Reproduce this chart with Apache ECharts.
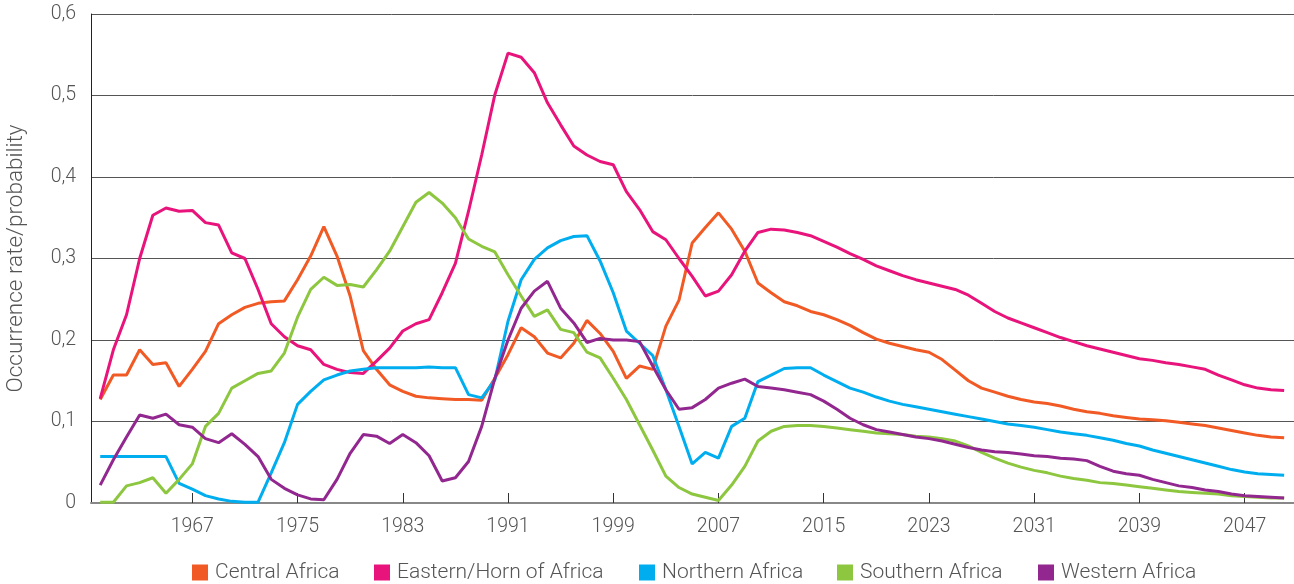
<!DOCTYPE html>
<html>
<head>
<meta charset="utf-8">
<script src="https://cdn.jsdelivr.net/npm/echarts@6/dist/echarts.min.js"></script>
<style>
  html, body { margin: 0; padding: 0; background: #fff; }
  #chart { width: 1294px; height: 584px; }
</style>
</head>
<body>
<div id="chart"></div>
<script>
// yearly values 1960 - 2050
var firstYear = 1960
var lastYear = 2050
var tickYears = [1967, 1975, 1983, 1991, 1999, 2007, 2015, 2023, 2031, 2039, 2047]
var seriesNames = ['Central Africa', 'Eastern/Horn of Africa', 'Northern Africa', 'Southern Africa', 'Western Africa']
var seriesColors = ['#f15a24', '#e8137b', '#00aeef', '#8dc63f', '#92278f']

var central = [
  0.127, 0.157, 0.157, 0.188, 0.170, 0.172, 0.143, 0.164, 0.186, 0.220,
  0.231, 0.240, 0.245, 0.247, 0.248, 0.274, 0.303, 0.339, 0.303, 0.254,
  0.187, 0.164, 0.145, 0.137, 0.131, 0.129, 0.128, 0.127, 0.127, 0.126,
  0.153, 0.182, 0.215, 0.204, 0.184, 0.178, 0.196, 0.224, 0.208, 0.186,
  0.153, 0.168, 0.164, 0.217, 0.249, 0.319, 0.338, 0.356, 0.336, 0.309,
  0.270, 0.258, 0.247, 0.242, 0.235, 0.231, 0.225, 0.218, 0.209, 0.201,
  0.196, 0.192, 0.188, 0.185, 0.176, 0.163, 0.150, 0.141, 0.136, 0.131,
  0.127, 0.124, 0.122, 0.119, 0.115, 0.112, 0.110, 0.107, 0.105, 0.103,
  0.102, 0.101, 0.099, 0.097, 0.095, 0.092, 0.089, 0.086, 0.083, 0.081,
  0.080
]
var eastern = [
  0.128, 0.188, 0.231, 0.300, 0.353, 0.362, 0.358, 0.359, 0.344, 0.341,
  0.307, 0.300, 0.262, 0.220, 0.204, 0.193, 0.188, 0.170, 0.164, 0.160,
  0.159, 0.174, 0.190, 0.211, 0.220, 0.225, 0.258, 0.294, 0.358, 0.427,
  0.501, 0.552, 0.547, 0.528, 0.491, 0.464, 0.438, 0.427, 0.419, 0.415,
  0.382, 0.360, 0.333, 0.323, 0.300, 0.278, 0.254, 0.260, 0.280, 0.309,
  0.332, 0.336, 0.335, 0.332, 0.328, 0.321, 0.314, 0.306, 0.299, 0.291,
  0.285, 0.279, 0.274, 0.270, 0.266, 0.262, 0.255, 0.245, 0.235, 0.227,
  0.221, 0.215, 0.209, 0.203, 0.198, 0.193, 0.189, 0.185, 0.181, 0.177,
  0.175, 0.172, 0.170, 0.167, 0.164, 0.157, 0.151, 0.145, 0.141, 0.139,
  0.138
]
var northern = [
  0.057, 0.057, 0.057, 0.057, 0.057, 0.057, 0.024, 0.017, 0.009, 0.005,
  0.002, 0.001, 0.001, 0.037, 0.074, 0.121, 0.137, 0.151, 0.157, 0.162,
  0.164, 0.166, 0.166, 0.166, 0.166, 0.167, 0.166, 0.166, 0.133, 0.129,
  0.151, 0.223, 0.274, 0.299, 0.313, 0.322, 0.327, 0.328, 0.297, 0.258,
  0.211, 0.196, 0.181, 0.139, 0.094, 0.048, 0.062, 0.055, 0.094, 0.104,
  0.149, 0.157, 0.165, 0.166, 0.166, 0.157, 0.149, 0.141, 0.136, 0.130,
  0.125, 0.121, 0.118, 0.115, 0.112, 0.109, 0.106, 0.103, 0.100, 0.097,
  0.095, 0.093, 0.090, 0.087, 0.085, 0.083, 0.080, 0.077, 0.073, 0.070,
  0.065, 0.061, 0.057, 0.053, 0.049, 0.045, 0.041, 0.038, 0.036, 0.035,
  0.034
]
var southern = [
  0.001, 0.001, 0.021, 0.025, 0.031, 0.012, 0.029, 0.048, 0.094, 0.110,
  0.141, 0.150, 0.159, 0.162, 0.184, 0.228, 0.262, 0.277, 0.267, 0.268,
  0.265, 0.286, 0.309, 0.339, 0.369, 0.381, 0.368, 0.350, 0.324, 0.315,
  0.308, 0.280, 0.254, 0.229, 0.237, 0.213, 0.209, 0.185, 0.178, 0.153,
  0.127, 0.096, 0.065, 0.033, 0.019, 0.011, 0.007, 0.003, 0.022, 0.045,
  0.076, 0.088, 0.094, 0.095, 0.095, 0.094, 0.092, 0.090, 0.088, 0.086,
  0.085, 0.084, 0.082, 0.081, 0.079, 0.076, 0.070, 0.062, 0.055, 0.049,
  0.044, 0.040, 0.037, 0.033, 0.030, 0.028, 0.025, 0.024, 0.022, 0.020,
  0.018, 0.016, 0.014, 0.013, 0.012, 0.011, 0.009, 0.008, 0.007, 0.006,
  0.006
]
var western = [
  0.022, 0.053, 0.081, 0.108, 0.104, 0.109, 0.096, 0.093, 0.079, 0.074,
  0.085, 0.072, 0.057, 0.029, 0.018, 0.010, 0.005, 0.004, 0.029, 0.061,
  0.084, 0.082, 0.073, 0.084, 0.074, 0.058, 0.027, 0.031, 0.051, 0.094,
  0.153, 0.200, 0.239, 0.260, 0.272, 0.239, 0.221, 0.197, 0.202, 0.200,
  0.200, 0.198, 0.168, 0.139, 0.115, 0.117, 0.127, 0.141, 0.147, 0.152,
  0.143, 0.141, 0.139, 0.136, 0.133, 0.125, 0.115, 0.104, 0.096, 0.090,
  0.087, 0.084, 0.081, 0.079, 0.076, 0.072, 0.068, 0.065, 0.063, 0.062,
  0.060, 0.058, 0.057, 0.055, 0.054, 0.052, 0.045, 0.039, 0.036, 0.034,
  0.029, 0.025, 0.021, 0.019, 0.016, 0.014, 0.011, 0.009, 0.008, 0.007,
  0.006
]

var years = []
for (var y = firstYear; y <= lastYear; y++) years.push(y)

function pairs (vals) {
  return vals.map(function (v, i) { return [years[i], v] })
}

var allValues = [central, eastern, northern, southern, western]
var fontName = 'Roboto, "Liberation Sans", sans-serif'
var textGrey = '#555'
// left edge of each legend square
var legendLefts = [187, 369, 634, 832, 1033]

var myChart = echarts.init(document.getElementById('chart'))
var option = {
  backgroundColor: '#fff',
  animation: false,
  textStyle: { fontFamily: fontName },
  grid: {
    left: 91,
    right: 0,
    top: 14,
    bottom: 81,
    containLabel: false,
    outerBoundsMode: 'none'
  },
  legend: seriesNames.map(function (name, i) {
    return {
      left: legendLefts[i],
      top: 557,
      icon: 'rect',
      itemWidth: 16,
      itemHeight: 16,
      itemGap: 0,
      selectedMode: false,
      textStyle: { fontSize: 21, color: textGrey, fontFamily: fontName, fontWeight: 300, padding: [0, 0, 0, 2] },
      data: [name]
    }
  }),
  xAxis: {
    type: 'value',
    min: 1959.3,
    max: 2050.75,
    axisLine: { show: true, lineStyle: { color: '#888', width: 2 } },
    axisTick: {
      show: true,
      inside: true,
      length: 10,
      customValues: tickYears,
      lineStyle: { color: '#333', width: 1 }
    },
    axisLabel: {
      customValues: tickYears,
      margin: 14,
      fontSize: 19.5,
      color: textGrey,
      fontWeight: 300,
      formatter: function (v) { return String(v) }
    },
    splitLine: { show: false }
  },
  yAxis: {
    type: 'value',
    min: 0,
    max: 0.6,
    interval: 0.1,
    name: 'Occurrence rate/probability',
    nameLocation: 'middle',
    nameRotate: 90,
    nameGap: 63,
    nameTextStyle: { fontSize: 22.5, color: textGrey, fontWeight: 300 },
    axisLine: { show: true, lineStyle: { color: '#222', width: 1 } },
    axisTick: { show: false },
    axisLabel: {
      margin: 15,
      fontSize: 19.5,
      color: textGrey,
      fontWeight: 300,
      formatter: function (v) { return v === 0 ? '0' : v.toFixed(1).replace('.', ',') }
    },
    splitLine: { show: true, lineStyle: { color: '#555', width: 1 } }
  },
  series: seriesNames.map(function (name, i) {
    return {
      name: name,
      type: 'line',
      data: pairs(allValues[i]),
      showSymbol: false,
      symbol: 'none',
      lineStyle: { width: 3, color: seriesColors[i] },
      itemStyle: { color: seriesColors[i] }
    }
  })
}
myChart.setOption(option)
</script>
</body>
</html>
